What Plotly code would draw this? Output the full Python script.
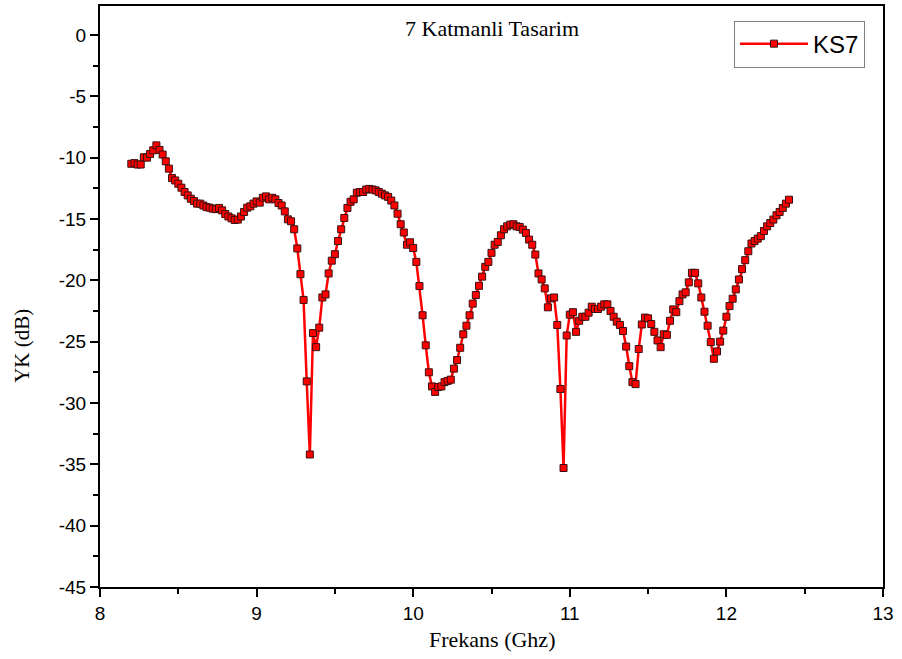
import plotly.graph_objects as go

freq = [
    8.20, 8.22, 8.24, 8.26, 8.28, 8.30, 8.32, 8.34, 8.36, 8.38,
    8.40, 8.42, 8.44, 8.46, 8.48, 8.50, 8.52, 8.54, 8.56, 8.58,
    8.60, 8.62, 8.64, 8.66, 8.68, 8.70, 8.72, 8.74, 8.76, 8.78,
    8.80, 8.82, 8.84, 8.86, 8.88, 8.90, 8.92, 8.94, 8.96, 8.98,
    9.00, 9.02, 9.04, 9.06, 9.08, 9.10, 9.12, 9.14, 9.16, 9.18,
    9.20, 9.22, 9.24, 9.26, 9.28, 9.30, 9.32, 9.34, 9.36, 9.38,
    9.40, 9.42, 9.44, 9.46, 9.48, 9.50, 9.52, 9.54, 9.56, 9.58,
    9.60, 9.62, 9.64, 9.66, 9.68, 9.70, 9.72, 9.74, 9.76, 9.78,
    9.80, 9.82, 9.84, 9.86, 9.88, 9.90, 9.92, 9.94, 9.96, 9.98,
    10.00, 10.02, 10.04, 10.06, 10.08, 10.10, 10.12, 10.14, 10.16, 10.18,
    10.20, 10.22, 10.24, 10.26, 10.28, 10.30, 10.32, 10.34, 10.36, 10.38,
    10.40, 10.42, 10.44, 10.46, 10.48, 10.50, 10.52, 10.54, 10.56, 10.58,
    10.60, 10.62, 10.64, 10.66, 10.68, 10.70, 10.72, 10.74, 10.76, 10.78,
    10.80, 10.82, 10.84, 10.86, 10.88, 10.90, 10.92, 10.94, 10.96, 10.98,
    11.00, 11.02, 11.04, 11.06, 11.08, 11.10, 11.12, 11.14, 11.16, 11.18,
    11.20, 11.22, 11.24, 11.26, 11.28, 11.30, 11.32, 11.34, 11.36, 11.38,
    11.40, 11.42, 11.44, 11.46, 11.48, 11.50, 11.52, 11.54, 11.56, 11.58,
    11.60, 11.62, 11.64, 11.66, 11.68, 11.70, 11.72, 11.74, 11.76, 11.78,
    11.80, 11.82, 11.84, 11.86, 11.88, 11.90, 11.92, 11.94, 11.96, 11.98,
    12.00, 12.02, 12.04, 12.06, 12.08, 12.10, 12.12, 12.14, 12.16, 12.18,
    12.20, 12.22, 12.24, 12.26, 12.28, 12.30, 12.32, 12.34, 12.36, 12.38,
    12.40,
]

ks7 = [
    -10.5, -10.45, -10.56, -10.56, -9.97, -10.0, -9.7, -9.4, -9.0, -9.37,
    -9.75, -10.3, -10.9, -11.67, -11.86, -12.13, -12.45, -12.8, -13.08, -13.35,
    -13.54, -13.75, -13.75, -13.9, -14.03, -14.08, -14.16, -14.2, -14.1, -14.3,
    -14.6, -14.8, -14.95, -15.08, -15.05, -14.8, -14.43, -14.08, -13.97, -13.75,
    -13.57, -13.67, -13.27, -13.16, -13.4, -13.27, -13.4, -13.7, -13.9, -14.38,
    -15.03, -15.19, -15.84, -17.4, -19.5, -21.6, -28.24, -34.2, -24.3, -25.45,
    -23.86, -21.4, -21.15, -19.44, -18.4, -17.87, -16.8, -15.84, -14.92, -14.1,
    -13.6, -13.4, -12.86, -12.8, -12.8, -12.6, -12.55, -12.6, -12.67, -12.8,
    -12.94, -13.08, -13.2, -13.5, -13.9, -14.57, -15.43, -16.1, -17.1, -16.9,
    -17.36, -18.5, -20.47, -22.85, -25.3, -27.5, -28.65, -29.1, -28.7, -28.65,
    -28.3, -28.2, -28.1, -27.2, -26.5, -25.5, -24.4, -23.7, -22.85, -21.9,
    -21.2, -20.45, -19.7, -18.9, -18.5, -17.76, -17.1, -16.87, -16.33, -15.84,
    -15.6, -15.46, -15.43, -15.6, -15.65, -15.87, -16.14, -16.68, -17.1, -17.9,
    -19.44, -19.93, -20.66, -22.2, -21.47, -21.4, -23.64, -28.86, -35.3, -24.5,
    -22.8, -22.6, -24.2, -23.3, -22.97, -22.97, -22.64, -22.15, -22.34, -22.34,
    -22.15, -21.96, -21.96, -22.5, -22.97, -23.37, -23.64, -24.13, -25.4, -27.0,
    -28.3, -28.46, -25.6, -23.6, -23.04, -23.1, -23.56, -24.2, -24.9, -25.45,
    -24.4, -24.45, -23.3, -22.37, -22.6, -21.7, -21.15, -20.98, -20.17, -19.39,
    -19.39, -20.25, -21.4, -22.56, -23.7, -25.04, -26.4, -25.8, -25.0, -24.1,
    -22.97, -22.1, -21.5, -20.74, -19.93, -19.09, -18.36, -17.63, -17.0, -16.8,
    -16.6, -16.4, -15.98, -15.6, -15.33, -15.05, -14.7, -14.43, -14.1, -13.75,
    -13.43,
]

x_ticks = [8, 9, 10, 11, 12, 13]
x_ticktext = ["8", "9", "10", "11", "12", "13"]
y_ticks = [0, -5, -10, -15, -20, -25, -30, -35, -40, -45]
y_ticktext = ["0", "-5", "-10", "-15", "-20", "-25", "-30", "-35", "-40", "-45"]

title_text = "7 Katmanli Tasarim"
x_title = "Frekans (Ghz)"
y_title = "YK (dB)"
series_name = "KS7"

fig = go.Figure()
fig.add_trace(go.Scatter(
    x=freq, y=ks7, mode="lines+markers", name=series_name,
    line=dict(color="#ff0000", width=2.5),
    marker=dict(symbol="square", size=7, color="#ff0000",
                line=dict(color="#3a1010", width=1)),
))

axis_common = dict(
    showgrid=False, zeroline=False, showline=True, linecolor="black",
    linewidth=2, mirror=True, ticks="outside", ticklen=8, tickwidth=1.5,
    tickcolor="black",
    tickfont=dict(family="Liberation Sans, Arial", size=19, color="black"),
)

fig.update_xaxes(range=[8, 13], tickvals=x_ticks, ticktext=x_ticktext,
                 minor=dict(dtick=0.5, ticks="outside", ticklen=5,
                            tickwidth=1.5, tickcolor="black", showgrid=False),
                 **axis_common)
fig.update_yaxes(range=[-45, 2.36], tickvals=y_ticks, ticktext=y_ticktext,
                 minor=dict(dtick=2.5, ticks="outside", ticklen=5,
                            tickwidth=1.5, tickcolor="black", showgrid=False),
                 **axis_common)

fig.update_layout(
    width=902, height=659,
    margin=dict(l=100, r=19, t=4, b=72),
    paper_bgcolor="white", plot_bgcolor="white",
    showlegend=True,
    legend=dict(x=0.977, y=0.975, xanchor="right", yanchor="top",
                bordercolor="#808080", borderwidth=1, bgcolor="white",
                font=dict(family="Liberation Sans, Arial", size=24, color="black"),
                itemwidth=68, tracegroupgap=0),
    annotations=[
        dict(text=title_text, xref="paper", yref="paper",
             x=0.5, y=1 - (27 - 4) / 583, xanchor="center", yanchor="middle",
             showarrow=False,
             font=dict(family="Liberation Serif, Times New Roman", size=22, color="black")),
        dict(text=x_title, xref="paper", yref="paper",
             x=0.5, y=-(640 - 587) / 583, xanchor="center", yanchor="middle",
             showarrow=False,
             font=dict(family="Liberation Serif, Times New Roman", size=22, color="black")),
        dict(text=y_title, xref="paper", yref="paper",
             x=-(100 - 22) / 783, y=1 - (345 - 4) / 583, xanchor="center", yanchor="middle",
             textangle=-90, showarrow=False,
             font=dict(family="Liberation Serif, Times New Roman", size=21, color="black")),
    ],
)

fig.write_html("out.html")
